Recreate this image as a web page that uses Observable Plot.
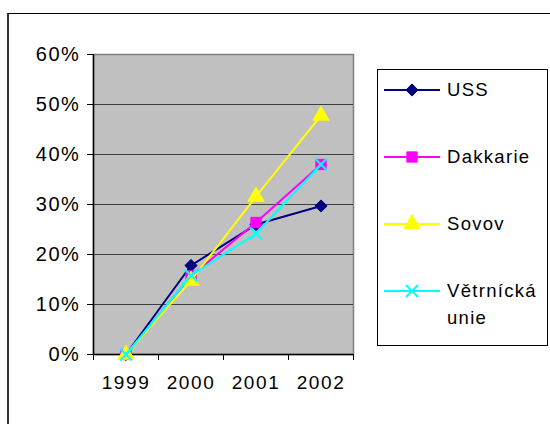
<!DOCTYPE html>
<html><head><meta charset="utf-8">
<script src="https://cdn.jsdelivr.net/npm/d3@7"></script>
<script src="https://cdn.jsdelivr.net/npm/@observablehq/plot@0.6"></script>
<style>
body{margin:0;background:#fff;}
#wrap{position:relative;width:550px;height:424px;overflow:hidden;font-family:"Liberation Sans",Arial,sans-serif;}
#border{position:absolute;left:7px;top:13px;width:600px;height:600px;border-left:2px solid #333;border-top:1.5px solid #000;}
#chart{position:absolute;left:0;top:0;}
#legend{position:absolute;left:377px;top:69px;width:169px;height:275px;border:1px solid #000;background:#fff;}
.entry{position:absolute;left:6px;display:flex;align-items:flex-start;}
.entry svg{flex:none;}
.entry span{font-size:18.5px;letter-spacing:1.3px;line-height:27px;margin-left:7px;width:100px;color:#000;}
</style></head>
<body>
<div id="wrap"><div id="border"></div><div id="chart"></div><div id="legend"></div></div>
<script>
const years = [1999, 2000, 2001, 2002];
const seriesNames = ["USS", "Dakkarie", "Sovov", "Větrnícká unie"];
const uss = [0, 0.178, 0.26, 0.297];
const dakkarie = [0, 0.157, 0.264, 0.38];
const sovov = [0, 0.148, 0.316, 0.478];
const vetrnicka = [0, 0.158, 0.242, 0.38];
const yTicks = [0, 0.1, 0.2, 0.3, 0.4, 0.5, 0.6];

const seriesValues = [uss, dakkarie, sovov, vetrnicka];
const colors = ["#000080", "#ff00ff", "#ffff00", "#00ffff"];
const symbols = ["diamond2", "square", "triangle", "times"];
const radii = [5.5, 5.8, 6, 5.5];

const bounds = years.map(y => y - 0.5).concat([years[years.length - 1] + 0.5]);

const marks = [
  Plot.frame({fill: "#c0c0c0", stroke: "#808080", strokeWidth: 1.5}),
  Plot.ruleY(yTicks.slice(1, -1), {stroke: "#404040", strokeWidth: 1.2}),
  Plot.ruleY(yTicks.slice(-1), {stroke: "#808080", strokeWidth: 1.2}),
  Plot.ruleX([bounds[0]], {stroke: "#000", strokeWidth: 1.5}),
  Plot.ruleY([0], {stroke: "#000", strokeWidth: 1.5}),
  Plot.axisY({ticks: yTicks, tickFormat: d3.format(".0%"), tickSize: 6, tickPadding: 7, fontSize: 20, stroke: "#000", label: null}),
  Plot.axisX({ticks: bounds, tickFormat: () => "", tickSize: 6, stroke: "#000", label: null}),
  Plot.axisX({ticks: years, tickFormat: d => String(d), tickSize: 0, tickPadding: 21, fontSize: 19, label: null})
];

seriesValues.forEach((vals, i) => {
  const data = years.map((y, j) => ({year: y, value: vals[j]}));
  marks.push(Plot.line(data, {x: "year", y: "value", stroke: colors[i], strokeWidth: 2}));
  const isStroke = symbols[i] === "times";
  marks.push(Plot.dot(data, {
    x: "year", y: "value", symbol: () => symbols[i], r: radii[i],
    fill: isStroke ? "none" : colors[i],
    stroke: colors[i], strokeWidth: isStroke ? 2 : 1
  }));
});

const chart = Plot.plot({
  width: 550, height: 424,
  marginLeft: 93, marginRight: 197, marginTop: 54, marginBottom: 70,
  x: {type: "linear", domain: [bounds[0], bounds[bounds.length - 1]], label: null},
  y: {domain: [0, 0.6], label: null},
  symbol: {type: "identity"},
  style: {fontFamily: "'Liberation Sans', Arial, sans-serif", background: "transparent", overflow: "visible", letterSpacing: "1.6px", color: "#000"},
  marks
});
document.getElementById("chart").appendChild(chart);

// legend
const legend = document.getElementById("legend");
seriesNames.forEach((name, i) => {
  const e = document.createElement("div");
  e.className = "entry";
  e.style.top = (6 + i * 67) + "px";
  const svg = d3.create("svg").attr("width", 56).attr("height", 27);
  svg.append("line").attr("x1", 0).attr("x2", 56).attr("y1", 14).attr("y2", 14)
    .attr("stroke", colors[i]).attr("stroke-width", 2);
  const sym = {diamond2: d3.symbolDiamond2, square: d3.symbolSquare, triangle: d3.symbolTriangle, times: d3.symbolTimes}[symbols[i]];
  const isStroke = symbols[i] === "times";
  svg.append("path").attr("transform", "translate(28,14)")
    .attr("d", d3.symbol(sym, Math.PI * radii[i] * radii[i])())
    .attr("fill", isStroke ? "none" : colors[i]).attr("stroke", colors[i]).attr("stroke-width", isStroke ? 2 : 1);
  e.appendChild(svg.node());
  const t = document.createElement("span");
  t.textContent = name;
  e.appendChild(t);
  legend.appendChild(e);
});
</script>
</body></html>
